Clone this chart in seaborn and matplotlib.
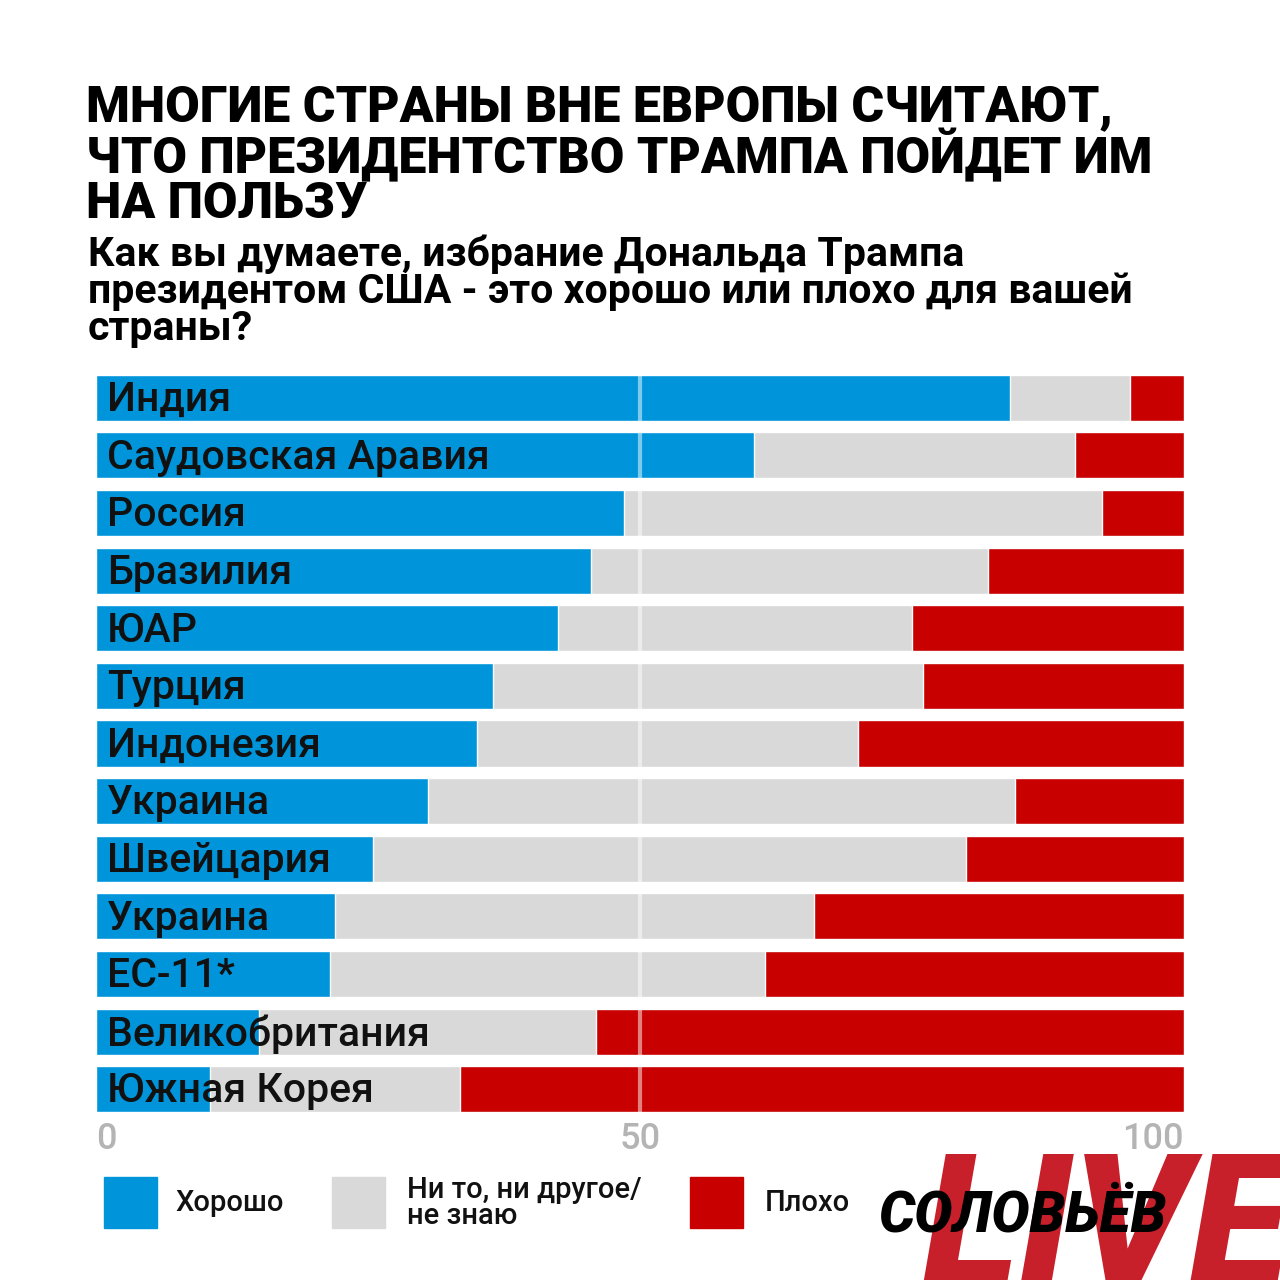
import matplotlib
matplotlib.use("Agg")
import matplotlib.pyplot as plt
import seaborn as sns
import pandas as pd
from matplotlib.patches import Rectangle

# Data (percent)
countries = ["Индия", "Саудовская Аравия", "Россия", "Бразилия", "ЮАР",
             "Турция", "Индонезия", "Украина", "Швейцария", "Украина",
             "ЕС-11*", "Великобритания", "Южная Корея"]
good = [84, 60.5, 48.5, 45.5, 42.5, 36.5, 35, 30.5, 25.5, 22, 21.5, 15, 10.5]
neutral = [11, 29.5, 44, 36.5, 32.5, 39.5, 35, 54, 54.5, 44, 40, 31, 23]
bad = [5, 10, 7.5, 18, 25, 24, 30, 15.5, 20, 34, 38.5, 54, 66.5]

legend_labels = ["Хорошо", "Ни то, ни другое/\nне знаю", "Плохо"]
x_ticks = [0, 50, 100]

title = "МНОГИЕ СТРАНЫ ВНЕ ЕВРОПЫ СЧИТАЮТ,\nЧТО ПРЕЗИДЕНТСТВО ТРАМПА ПОЙДЕТ ИМ\nНА ПОЛЬЗУ"
subtitle = ("Как вы думаете, избрание Дональда Трампа\n"
            "президентом США - это хорошо или плохо для вашей\nстраны?")

c_good = "#0095da"
c_neutral = "#d9d9d9"
c_bad = "#c80000"

sns.set_style("white")
plt.rcParams["font.family"] = ["Roboto", "DejaVu Sans"]

df = pd.DataFrame({"row": list(range(len(countries))),
                   "good": good, "neutral": neutral, "bad": bad})
df["good_neutral"] = df["good"] + df["neutral"]
df["total"] = df["good_neutral"] + df["bad"]

W, H = 1280, 1280
fig = plt.figure(figsize=(12.8, 12.8), dpi=100)
fig.patch.set_facecolor("white")

ax = fig.add_axes([96 / W, 1 - 1118 / H, (1184 - 96) / W, (1118 - 369) / H])

# stacked bars: draw totals first, then cover with shorter segments
sns.barplot(data=df, x="total", y="row", orient="h", color=c_bad,
            width=0.8, saturation=1, ax=ax)
sns.barplot(data=df, x="good_neutral", y="row", orient="h", color=c_neutral,
            width=0.8, saturation=1, ax=ax)
sns.barplot(data=df, x="good", y="row", orient="h", color=c_good,
            width=0.8, saturation=1, ax=ax)

ax.axvline(50, color="white", alpha=0.5, lw=3, zorder=5)

for i, name in enumerate(countries):
    ax.text(1.0, i + 0.04, name, va="center", ha="left", fontsize=29.5,
            fontweight="medium", color="#111111", zorder=6)

ax.set_xlim(0, 100)
ax.set_ylim(len(countries) - 0.5, -0.5)
ax.set_xlabel("")
ax.set_ylabel("")
ax.set_yticks([])
ax.set_xticks(x_ticks)
ax.set_xticklabels([str(t) for t in x_ticks], fontsize=26, color="#b4b4b4",
                   fontweight="medium")
tl = ax.get_xticklabels()
tl[0].set_ha("left")
tl[2].set_ha("right")
ax.tick_params(axis="x", length=0, pad=3)
for s in ax.spines.values():
    s.set_visible(False)

# title and subtitle
fig.text(86 / W, 1 - 84 / H, title, ha="left", va="top", fontsize=36,
         fontweight="black", color="black", linespacing=0.95)
fig.text(88 / W, 1 - 234 / H, subtitle, ha="left", va="top", fontsize=29.5,
         fontweight="bold", color="black", linespacing=0.96)

# legend
leg_x = [104, 332, 690]
leg_txt_x = [175, 407, 765]
leg_cols = [c_good, c_neutral, c_bad]
for x0, tx, col, lab in zip(leg_x, leg_txt_x, leg_cols, legend_labels):
    fig.add_artist(Rectangle((x0 / W, 1 - 1228 / H), 53 / W, 51 / H,
                             transform=fig.transFigure, color=col))
    fig.text(tx / W, 1 - 1203 / H, lab, ha="left", va="center", fontsize=21,
             fontweight="medium", color="#111111", linespacing=0.92)

# logo
fig.text(1290 / W, 1 - 1284 / H, "LIVE", ha="right", va="baseline",
         fontsize=132, fontweight="black", style="italic", color="#c8202a")
fig.text(878 / W, 1 - 1232 / H, "СОЛОВЬЁВ", ha="left", va="baseline",
         fontsize=41, fontweight="black", style="italic", color="black")

fig.savefig("out.png", dpi=100, facecolor="white")
